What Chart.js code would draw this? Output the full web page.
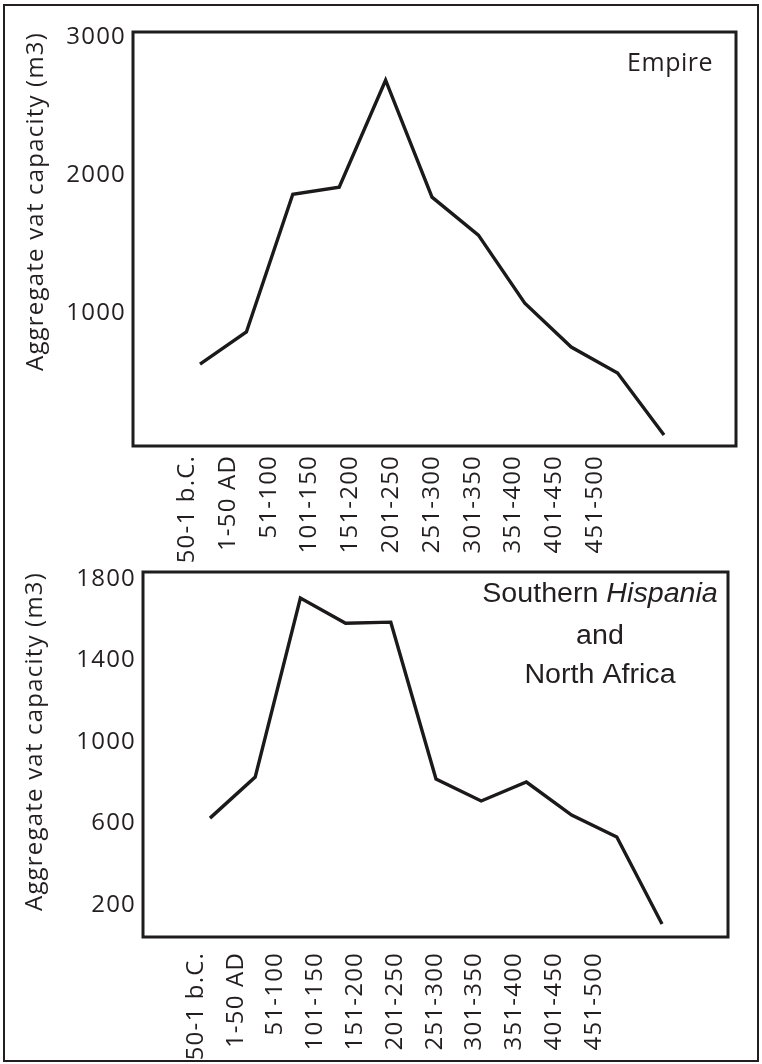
<!DOCTYPE html>
<html>
<head>
<meta charset="utf-8">
<script src="https://cdn.jsdelivr.net/npm/chart.js@4.4.1/dist/chart.umd.min.js"></script>
<style>
  html, body { margin: 0; padding: 0; background: #fff; }
  body { width: 762px; height: 1064px; position: relative; overflow: hidden; }
  #frame { position: absolute; left: 3px; top: 4px; width: 752px; height: 1054px; border: 2px solid #231f20; }
  canvas { position: absolute; left: 0; }
  #empireChart { top: 0; }
  #hispaniaChart { top: 540px; }
</style>
</head>
<body>
<div id="frame"></div>
<canvas id="empireChart" width="762" height="565"></canvas>
<canvas id="hispaniaChart" width="762" height="524"></canvas>
<script>
// periods (x labels) and aggregate vat capacity (m3)
const periods = ['50-1 b.C.', '1-50 AD', '51-100', '101-150', '151-200', '201-250',
                 '251-300', '301-350', '351-400', '401-450', '451-500'];
const empireCapacity   = [631, 863, 1860, 1911, 2685, 1839, 1564, 1072, 754, 566, 118];
const hispaniaCapacity = [626, 827, 1705, 1582, 1587, 818, 710, 803, 641, 533, 107];
const empireTicks   = [1000, 2000, 3000];
const hispaniaTicks = [200, 600, 1000, 1400, 1800];

const ink = '#231f20';
Chart.defaults.font.family = '"Open Sans", sans-serif';
Chart.defaults.font.size = 24;
Chart.defaults.color = ink;

// the figure uses a wide, loosely tracked type
const spacingPlugin = {
    id: 'spacing',
    beforeUpdate(chart) { chart.ctx.letterSpacing = '1.2px'; },
    beforeDraw(chart) { chart.ctx.letterSpacing = '1.2px'; }
};

// box around the plot area
const framePlugin = {
    id: 'frame',
    afterDraw(chart) {
        const { ctx, chartArea: a } = chart;
        ctx.save();
        ctx.strokeStyle = '#1e1c1c';
        ctx.lineWidth = 3;
        ctx.strokeRect(a.left, a.top, a.right - a.left, a.bottom - a.top);
        ctx.restore();
    }
};

function notePlugin(note) {
    return {
        id: 'note',
        afterDraw(chart) {
            const { ctx, chartArea: a } = chart;
            ctx.save();
            ctx.fillStyle = ink;
            ctx.textBaseline = 'alphabetic';
            ctx.textAlign = 'left';
            ctx.letterSpacing = note.spacing;
            note.lines.forEach(line => {
                const widths = line.parts.map(p => {
                    ctx.font = (p.italic ? 'italic ' : '') + note.font;
                    return ctx.measureText(p.text).width;
                });
                const total = widths.reduce((s, w) => s + w, 0) * note.stretch;
                const x = a.right - line.dx;
                let start = note.align === 'right' ? x - total : x - total / 2;
                ctx.save();
                ctx.translate(start, a.top + line.dy);
                ctx.scale(note.stretch, 1);
                let cx = 0;
                line.parts.forEach((p, i) => {
                    ctx.font = (p.italic ? 'italic ' : '') + note.font;
                    ctx.fillText(p.text, cx, 0);
                    cx += widths[i];
                });
                ctx.restore();
            });
            ctx.restore();
        }
    };
}

function makeChart(id, values, yTicks, cfg) {
    return new Chart(document.getElementById(id), {
        type: 'line',
        data: {
            datasets: [{
                data: values.map((v, i) => ({ x: i, y: v })),
                xAxisID: 'xd',
                yAxisID: 'y',
                borderColor: '#1b1919',
                borderWidth: 3.4,
                borderJoinStyle: 'miter',
                pointRadius: 0,
                tension: 0,
                fill: false
            }]
        },
        options: {
            responsive: false,
            animation: false,
            layout: { padding: { top: cfg.padTop, right: cfg.padRight, left: 0, bottom: 0 } },
            plugins: { legend: { display: false }, tooltip: { enabled: false } },
            scales: {
                x: {
                    type: 'linear',
                    position: 'bottom',
                    min: cfg.labelMin,
                    max: cfg.labelMax,
                    grid: { display: false, drawTicks: false },
                    border: { display: false },
                    afterBuildTicks: axis => { axis.ticks = periods.map((p, i) => ({ value: i })); },
                    afterFit: axis => { axis.height = cfg.axisHeight; },
                    ticks: {
                        autoSkip: false,
                        maxRotation: 90,
                        minRotation: 90,
                        padding: cfg.labelPad,
                        callback: (v, i) => periods[i]
                    }
                },
                xd: { type: 'linear', display: false, min: cfg.dataMin, max: cfg.dataMax },
                y: {
                    type: 'linear',
                    min: cfg.yMin,
                    max: cfg.yMax,
                    grid: { display: false, drawTicks: false },
                    border: { display: false },
                    afterBuildTicks: axis => { axis.ticks = yTicks.map(v => ({ value: v })); },
                    afterFit: axis => { axis.width = cfg.axisWidth; },
                    ticks: { padding: 7, callback: v => String(v) },
                    title: {
                        display: true,
                        text: 'Aggregate vat capacity (m3)',
                        align: 'end',
                        padding: { top: cfg.titlePad, bottom: 0 },
                        font: { size: 24 }
                    }
                }
            }
        },
        plugins: [spacingPlugin, framePlugin, notePlugin(cfg.note)]
    });
}

makeChart('empireChart', empireCapacity, empireTicks, {
    yMin: 38, yMax: 3034,
    labelMin: -1.332, labelMax: 13.458,
    dataMin: -1.444, dataMax: 11.552,
    axisWidth: 133, axisHeight: 119,
    padTop: 32, padRight: 26, labelPad: 9, titlePad: 22,
    note: {
        font: '25px "Open Sans", sans-serif', spacing: '0.5px', stretch: 1, align: 'right',
        lines: [{ dx: 23, dy: 39, parts: [{ text: 'Empire' }] }]
    }
});

makeChart('hispaniaChart', hispaniaCapacity, hispaniaTicks, {
    yMin: 43, yMax: 1833,
    labelMin: -1.332, labelMax: 13.367,
    dataMin: -1.482, dataMax: 11.46,
    axisWidth: 143, axisHeight: 127,
    padTop: 32, padRight: 34, labelPad: 15, titlePad: 21,
    note: {
        font: '27px "Liberation Sans", Arial, sans-serif', spacing: '0px', stretch: 1.06, align: 'center',
        lines: [
            { dx: 128, dy: 30, parts: [{ text: 'Southern ' }, { text: 'Hispania', italic: true }] },
            { dx: 128, dy: 72, parts: [{ text: 'and' }] },
            { dx: 128, dy: 111, parts: [{ text: 'North Africa' }] }
        ]
    }
});
</script>
</body>
</html>
